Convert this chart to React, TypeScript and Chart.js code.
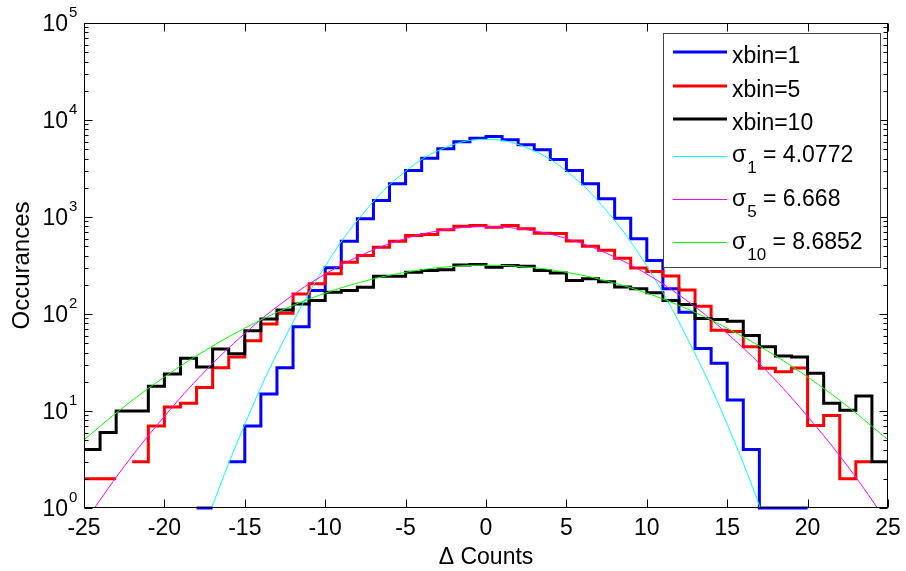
import React, { useEffect, useRef } from 'react';
import { Chart, registerables } from 'chart.js';

Chart.register(...registerables);

// ---------- data ----------
const binEdges = [
  -25, -24, -23, -22, -21, -20, -19, -18, -17, -16, -15, -14, -13, -12, -11, -10, -9, -8, -7, -6, -5, -4, -3, -2, -1,
  0, 1, 2, 3, 4, 5, 6, 7, 8, 9, 10, 11, 12, 13, 14, 15, 16, 17, 18, 19, 20, 21, 22, 23, 24, 25,
];

// counts per bin [binEdges[i], binEdges[i+1]] ; 0 = empty bin (not drawn on log axis)
const countsXbin1 = [
  0, 0, 0, 0, 0, 0, 0, 1, 0, 3, 7, 15, 28, 74, 175, 300, 563, 958, 1480, 2200, 3015, 4037, 5048, 5950, 6500,
  6760, 6250, 5550, 4930, 3920, 3015, 2200, 1540, 970, 596, 356, 182, 104, 44, 31, 13, 4, 1, 1, 1, 0, 0, 0, 0, 0,
];
const countsXbin5 = [
  2, 2, 0, 3, 7, 11, 12, 17.5, 28, 36, 53, 79, 102, 161, 205, 260, 342, 401, 488, 563, 644, 660, 740, 804, 817,
  785, 817, 755, 681, 675, 565, 500, 455, 375, 298, 275, 247, 177, 120, 68, 66, 46, 27.6, 25.4, 27.8, 7.1, 9, 2, 3, 0,
];
const countsXbin10 = [
  4, 6, 10, 10, 18, 24, 35, 28.5, 43.5, 39, 67, 89, 110, 127, 138, 168, 175, 189, 245, 245, 270, 281, 286, 320, 324,
  304, 316, 310, 281, 264, 221, 231, 215, 190, 182, 166, 138, 125, 90, 88, 84, 60, 46, 37, 36, 24.5, 12, 10.2, 14.3, 3,
];

// Gaussian fit curves
const fitX = [-25, -22.5, -20, -17.5, -15, -12.5, -10, -7.5, -5, -2.5, 0, 2.5, 5, 7.5, 10, 12.5, 15, 17.5, 20, 22.5, 25];
const fitSigma1 = [0.00004, 0.0015, 0.038, 0.63, 7.3, 57, 312, 1160, 2970, 5220, 6310, 5220, 2970, 1160, 312, 57, 7.3, 0.63, 0.038, 0.0015, 0.00004];
const fitSigma5 = [0.7, 2.68, 8.8, 25.4, 63, 137, 258, 422, 600, 740, 794, 740, 600, 422, 258, 137, 63, 25.4, 8.8, 2.68, 0.7];
const fitSigma10 = [5.05, 11.1, 22.4, 41.7, 71.4, 113, 164, 219, 269, 305, 318, 305, 269, 219, 164, 113, 71.4, 41.7, 22.4, 11.1, 5.05];

const xTickValues = [-25, -20, -15, -10, -5, 0, 5, 10, 15, 20, 25];
const yTickExponents = [0, 1, 2, 3, 4, 5];
const yMinorMultipliers = [2, 3, 4, 5, 6, 7, 8, 9];

const histLabels = ['xbin=1', 'xbin=5', 'xbin=10'];
const histColors = ['#0000ff', '#ff0000', '#000000'];
const fitSubscripts = ['1', '5', '10'];
const fitValues = ['4.0772', '6.668', '8.6852'];
const fitColors = ['#00ffff', '#ff00ff', '#00ff00'];

const FONT = '"Liberation Sans", Arial, Helvetica, sans-serif';

function stairs(edges: number[], counts: number[]) {
  const pts: { x: number; y: number | null }[] = [];
  counts.forEach((c, i) => {
    if (c > 0) {
      pts.push({ x: edges[i], y: c }, { x: edges[i + 1], y: c });
    } else {
      pts.push({ x: edges[i], y: null });
    }
  });
  return pts;
}

function curve(xs: number[], ys: number[]) {
  return xs.map((x, i) => ({ x, y: ys[i] }));
}

const frame = {
  id: 'matlabFrame',
  afterDatasetsDraw(chart: any) {
    const { ctx, chartArea: a } = chart;
    const xs = chart.scales.x;
    const ys = chart.scales.y;
    ctx.save();

    const L = Math.round(a.left) + 0.5;
    const R = Math.round(a.right) - 0.5;
    const T = Math.round(a.top) + 0.5;
    const B = Math.round(a.bottom) - 0.5;

    // ticks (inward, all four sides)
    ctx.strokeStyle = '#000';
    ctx.lineWidth = 1;
    ctx.beginPath();
    for (const v of xTickValues) {
      const px = Math.round(xs.getPixelForValue(v)) + 0.5;
      ctx.moveTo(px, B);
      ctx.lineTo(px, B - 8);
      ctx.moveTo(px, T);
      ctx.lineTo(px, T + 8);
    }
    for (const e of yTickExponents) {
      const py = Math.round(ys.getPixelForValue(Math.pow(10, e))) + 0.5;
      ctx.moveTo(L, py);
      ctx.lineTo(L + 8, py);
      ctx.moveTo(R, py);
      ctx.lineTo(R - 8, py);
      if (e < 5) {
        for (const m of yMinorMultipliers) {
          const pm = Math.round(ys.getPixelForValue(m * Math.pow(10, e))) + 0.5;
          ctx.moveTo(L, pm);
          ctx.lineTo(L + 4, pm);
          ctx.moveTo(R, pm);
          ctx.lineTo(R - 4, pm);
        }
      }
    }
    ctx.stroke();
    ctx.strokeRect(L, T, R - L, B - T);

    // tick labels
    ctx.fillStyle = '#000';
    ctx.textBaseline = 'alphabetic';
    ctx.font = `23px ${FONT}`;
    ctx.textAlign = 'center';
    for (const v of xTickValues) {
      ctx.fillText(String(v), xs.getPixelForValue(v), 535);
    }
    for (const e of yTickExponents) {
      const py = ys.getPixelForValue(Math.pow(10, e));
      ctx.font = `23px ${FONT}`;
      ctx.textAlign = 'right';
      ctx.fillText('10', 68, py + 8);
      ctx.font = `15px ${FONT}`;
      ctx.textAlign = 'left';
      ctx.fillText(String(e), 69, py - 6);
    }

    // axis titles
    ctx.font = `23px ${FONT}`;
    ctx.textAlign = 'center';
    ctx.fillText('\u0394 Counts', (a.left + a.right) / 2, 564);
    ctx.save();
    ctx.translate(22, (a.top + a.bottom) / 2);
    ctx.rotate(-Math.PI / 2);
    ctx.textBaseline = 'middle';
    ctx.font = `24px ${FONT}`;
    ctx.fillText('Occurances', 0, 0);
    ctx.restore();

    // legend
    const lx = 663, ly = 33, lw = 218, lh = 235;
    ctx.fillStyle = '#fff';
    ctx.fillRect(lx, ly, lw, lh);
    ctx.strokeStyle = '#444';
    ctx.lineWidth = 1;
    ctx.strokeRect(lx + 0.5, ly + 0.5, lw - 1, lh - 1);

    const lineX0 = 673, lineX1 = 727, textX = 732;
    const histRowY = [52, 86, 119];
    const histBase = [63, 97, 130];
    ctx.textAlign = 'left';
    ctx.textBaseline = 'alphabetic';
    histLabels.forEach((lab, i) => {
      ctx.strokeStyle = histColors[i];
      ctx.lineWidth = 3;
      ctx.beginPath();
      ctx.moveTo(lineX0, histRowY[i]);
      ctx.lineTo(lineX1, histRowY[i]);
      ctx.stroke();
      ctx.fillStyle = '#000';
      ctx.font = `23px ${FONT}`;
      ctx.fillText(lab, textX, histBase[i]);
    });
    const fitRowY = [156.5, 199.5, 242.5];
    const fitBase = [162, 205.5, 249];
    fitSubscripts.forEach((sub, i) => {
      ctx.strokeStyle = fitColors[i];
      ctx.lineWidth = 1;
      ctx.beginPath();
      ctx.moveTo(lineX0, fitRowY[i]);
      ctx.lineTo(lineX1, fitRowY[i]);
      ctx.stroke();
      ctx.fillStyle = '#000';
      ctx.font = `23px ${FONT}`;
      ctx.fillText('\u03c3', textX, fitBase[i]);
      let x = textX + ctx.measureText('\u03c3').width + 1;
      ctx.font = `17px ${FONT}`;
      ctx.fillText(sub, x, fitBase[i] + 11);
      x += ctx.measureText(sub).width;
      ctx.font = `23px ${FONT}`;
      ctx.fillText(' = ' + fitValues[i], x, fitBase[i]);
    });

    ctx.restore();
  },
};

export default function App() {
  const ref = useRef<HTMLCanvasElement>(null);

  useEffect(() => {
    if (!ref.current) return;
    const histCounts = [countsXbin1, countsXbin5, countsXbin10];
    const fits = [fitSigma1, fitSigma5, fitSigma10];
    const datasets: any[] = [];
    histCounts.forEach((c, i) => {
      datasets.push({
        label: histLabels[i],
        data: stairs(binEdges, c),
        borderColor: histColors[i],
        backgroundColor: histColors[i],
        borderWidth: 3,
        pointRadius: 0,
        tension: 0,
        spanGaps: false,
        borderJoinStyle: 'miter',
        clip: false,
        order: 6 - i,
      });
    });
    fits.forEach((f, i) => {
      datasets.push({
        label: 'sigma' + fitSubscripts[i],
        data: curve(fitX, f),
        borderColor: fitColors[i],
        backgroundColor: fitColors[i],
        borderWidth: 1,
        pointRadius: 0,
        tension: 0.4,
        order: 3 - i,
      });
    });

    const chart = new Chart(ref.current, {
      type: 'line',
      data: { datasets },
      options: {
        animation: false,
        responsive: true,
        maintainAspectRatio: false,
        events: [],
        layout: { padding: { left: 84, right: 18, top: 23, bottom: 63 } },
        scales: {
          x: { type: 'linear', min: -25, max: 25, display: false },
          y: { type: 'logarithmic', min: 1, max: 100000, display: false },
        },
        plugins: {
          legend: { display: false },
          tooltip: { enabled: false },
        },
      },
      plugins: [frame],
    });
    return () => chart.destroy();
  }, []);

  return (
    <div style={{ position: 'fixed', left: 0, top: 0, width: 906, height: 571, background: '#fff' }}>
      <canvas ref={ref} />
    </div>
  );
}
